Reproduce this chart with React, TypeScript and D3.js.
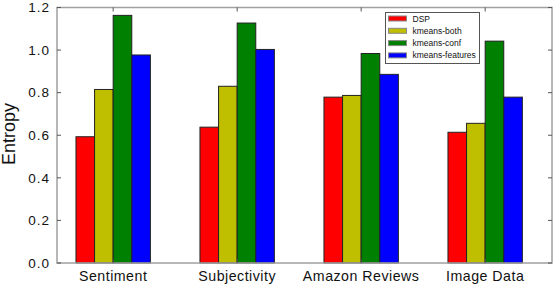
import React, { useEffect, useRef } from "react";
import * as d3 from "d3";

const categories = ["Sentiment", "Subjectivity", "Amazon Reviews", "Image Data"];
const seriesNames = ["DSP", "kmeans-both", "kmeans-conf", "kmeans-features"];
const dsp = [0.593, 0.638, 0.779, 0.614];
const kmeansBoth = [0.815, 0.83, 0.787, 0.656];
const kmeansConf = [1.163, 1.127, 0.984, 1.042];
const kmeansFeatures = [0.977, 1.003, 0.886, 0.779];
const yTicks = [0.0, 0.2, 0.4, 0.6, 0.8, 1.0, 1.2];
const colors = ["#ff0000", "#bfbf00", "#008000", "#0000ff"];

const W = 554;
const H = 286;

export default function App() {
  const ref: any = useRef();

  useEffect(() => {
    const svg = d3.select(ref.current);
    svg.selectAll("*").remove();

    const left = 57, right = 552, top = 7.5, bottom = 263;
    const barW = 0.15;
    const series = [dsp, kmeansBoth, kmeansConf, kmeansFeatures];

    const x = d3.scaleLinear().domain([-0.153, 3.839]).range([left, right]);
    const y = d3.scaleLinear().domain([0, 1.2]).range([bottom, top]);
    const font = "'Liberation Sans', Arial, Helvetica, sans-serif";

    // bars
    series.forEach((vals, s) => {
      svg
        .append("g")
        .selectAll("rect")
        .data(vals)
        .enter()
        .append("rect")
        .attr("x", (_d, i) => x(i + s * barW))
        .attr("y", (d) => y(d))
        .attr("width", x(barW) - x(0))
        .attr("height", (d) => y(0) - y(d))
        .attr("fill", colors[s])
        .attr("stroke", "#222")
        .attr("stroke-width", 1);
    });

    // frame
    svg
      .append("rect")
      .attr("x", left)
      .attr("y", top)
      .attr("width", right - left)
      .attr("height", bottom - top)
      .attr("fill", "none")
      .attr("stroke", "#a0a0a0")
      .attr("stroke-width", 1.5);

    // y ticks both sides
    const tl = 4;
    yTicks.forEach((t) => {
      svg.append("line").attr("x1", left).attr("x2", left + tl)
        .attr("y1", y(t)).attr("y2", y(t)).attr("stroke", "#555");
      svg.append("line").attr("x1", right).attr("x2", right - tl)
        .attr("y1", y(t)).attr("y2", y(t)).attr("stroke", "#555");
      svg.append("text")
        .attr("x", left - 7)
        .attr("y", y(t) + 4.7)
        .attr("text-anchor", "end")
        .attr("font-family", font)
        .attr("font-size", 13.5)
        .attr("letter-spacing", 1)
        .attr("fill", "#111")
        .text(t.toFixed(1));
    });

    // x ticks + labels
    categories.forEach((c, i) => {
      const cx = x(i + 2 * barW);
      svg.append("line").attr("x1", cx).attr("x2", cx)
        .attr("y1", bottom).attr("y2", bottom - tl).attr("stroke", "#555");
      svg.append("line").attr("x1", cx).attr("x2", cx)
        .attr("y1", top).attr("y2", top + tl).attr("stroke", "#555");
      svg.append("text")
        .attr("x", cx)
        .attr("y", bottom + 18)
        .attr("text-anchor", "middle")
        .attr("font-family", font)
        .attr("font-size", 14.2)
        .attr("letter-spacing", 0.5)
        .attr("fill", "#111")
        .text(c);
    });

    // y label
    svg.append("text")
      .attr("transform", `translate(15,134) rotate(-90)`)
      .attr("text-anchor", "middle")
      .attr("font-family", font)
      .attr("font-size", 18)
      .attr("fill", "#111")
      .text("Entropy");

    // legend
    const lg = svg.append("g").attr("transform", "translate(385.5,12.5)");
    lg.append("rect")
      .attr("width", 94)
      .attr("height", 51)
      .attr("fill", "#fff")
      .attr("stroke", "#555")
      .attr("stroke-width", 1);
    seriesNames.forEach((n, i) => {
      const ly = 6 + i * 12.3;
      lg.append("rect")
        .attr("x", 3)
        .attr("y", ly - 2.5)
        .attr("width", 18)
        .attr("height", 5)
        .attr("fill", colors[i])
        .attr("stroke", "#888")
        .attr("stroke-width", 1);
      lg.append("text")
        .attr("x", 27)
        .attr("y", ly + 3)
        .attr("font-family", font)
        .attr("font-size", 8.5)
        .attr("fill", "#111")
        .text(n);
    });
  }, []);

  return (
    <svg
      ref={ref}
      width={W}
      height={H}
      style={{ position: "absolute", left: 0, top: 0, background: "#fff" }}
    />
  );
}
